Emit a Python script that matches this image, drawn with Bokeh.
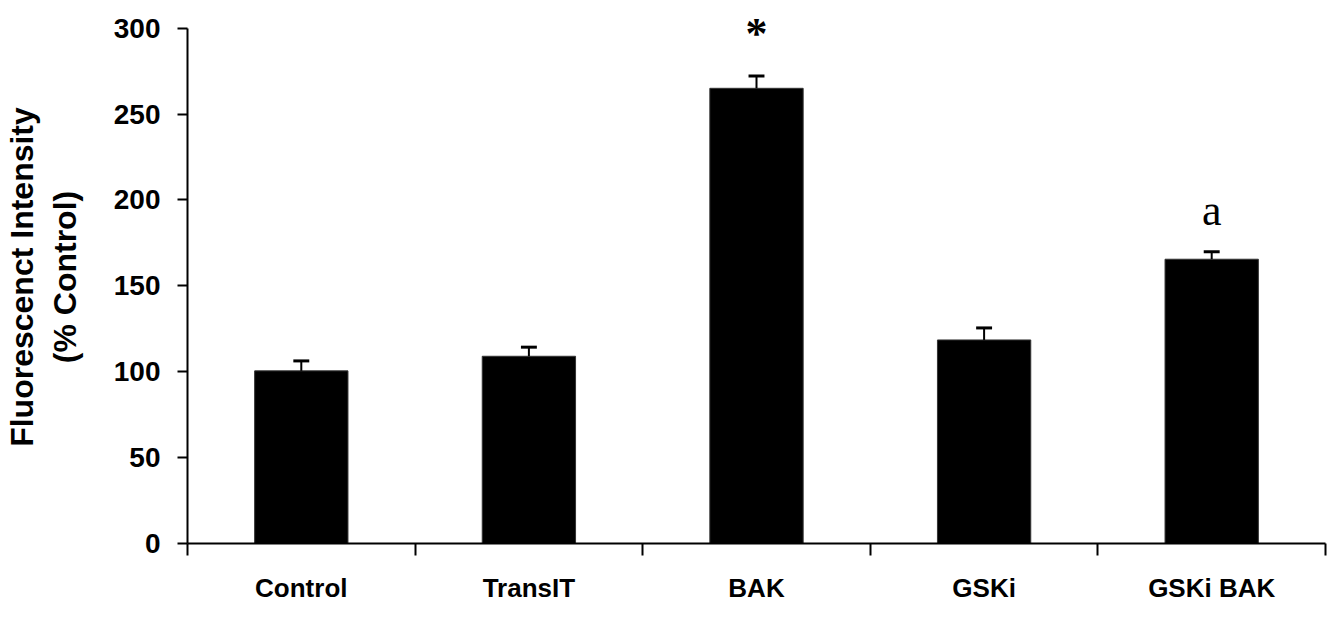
import numpy as np
from bokeh.plotting import figure
from bokeh.models import ColumnDataSource, FixedTicker, Range1d
from bokeh.core.properties import value
from bokeh.embed import file_html
from bokeh.resources import INLINE

# ---- data ----
categories = ["Control", "TransIT", "BAK", "GSKi", "GSKi BAK"]
means = [100.5, 109.0, 265.0, 118.5, 165.5]
errors = [5.8, 5.3, 7.1, 7.0, 4.4]
marks = ["", "", "*", "", "a"]
y_ticks = [0, 50, 100, 150, 200, 250, 300]
y_label = "Fluorescenct Intensity\n(% Control)"

n = len(categories)
xc = np.arange(n) + 0.5
bounds = np.arange(n + 1)
tops = np.array(means) + np.array(errors)

src = ColumnDataSource(dict(
    x=xc, top=means, err=tops,
    cap0=xc - 0.035, cap1=xc + 0.035,
    mark=marks,
    yoff=[0, 0, -43, 0, -41],
    mstyle=["normal", "normal", "bold", "normal", "normal"],
))

p = figure(width=1328, height=605, output_backend="svg", toolbar_location=None,
           x_range=Range1d(0, n), y_range=Range1d(0, 310.3),
           min_border_left=183, min_border_right=3, min_border_top=10,
           min_border_bottom=60)
p.outline_line_color = None
p.xgrid.grid_line_color = None
p.ygrid.grid_line_color = None
p.background_fill_color = "white"
p.border_fill_color = "white"

p.vbar(x="x", top="top", width=0.41, bottom=0, source=src,
       fill_color="black", line_color="#333333", line_width=1)
p.segment(x0="x", y0="top", x1="x", y1="err", source=src,
          line_color="black", line_width=2)
p.segment(x0="cap0", y0="err", x1="cap1", y1="err", source=src,
          line_color="black", line_width=3)
p.text(x="x", y="err", text="mark", y_offset="yoff", source=src,
       text_font=value("Liberation Serif"), text_font_size="44px",
       text_font_style="mstyle",
       text_align="center", text_baseline="alphabetic", text_color="black")

# y axis
ya = p.yaxis[0]
ya.ticker = FixedTicker(ticks=y_ticks, minor_ticks=[])
ya.bounds = (0, 300)
ya.axis_line_width = 2
ya.axis_line_color = "black"
ya.major_tick_line_width = 2
ya.major_tick_out = 10
ya.major_tick_in = 0
ya.minor_tick_line_color = None
ya.major_label_text_font = "Liberation Sans"
ya.major_label_text_font_style = "bold"
ya.major_label_text_font_size = "28px"
ya.major_label_text_color = "black"
ya.major_label_standoff = 17
ya.axis_label = y_label
ya.axis_label_text_font = "Liberation Sans"
ya.axis_label_text_font_style = "bold"
ya.axis_label_text_font_size = "32px"
ya.axis_label_text_color = "black"
ya.axis_label_standoff = 28

# x axis: labels at category centres, ticks at category boundaries
xa = p.xaxis[0]
xa.ticker = FixedTicker(ticks=list(xc), minor_ticks=list(bounds))
xa.major_label_overrides = {float(x): c for x, c in zip(xc, categories)}
xa.axis_line_width = 2
xa.axis_line_color = "black"
xa.major_tick_line_color = None
xa.major_tick_out = 0
xa.major_tick_in = 0
xa.minor_tick_line_width = 2
xa.minor_tick_line_color = "black"
xa.minor_tick_out = 12
xa.minor_tick_in = 0
xa.major_label_text_font = "Liberation Sans"
xa.major_label_text_font_style = "bold"
xa.major_label_text_font_size = "26px"
xa.major_label_text_color = "black"
xa.major_label_standoff = 17

open("out.html", "w").write(file_html(p, INLINE))
